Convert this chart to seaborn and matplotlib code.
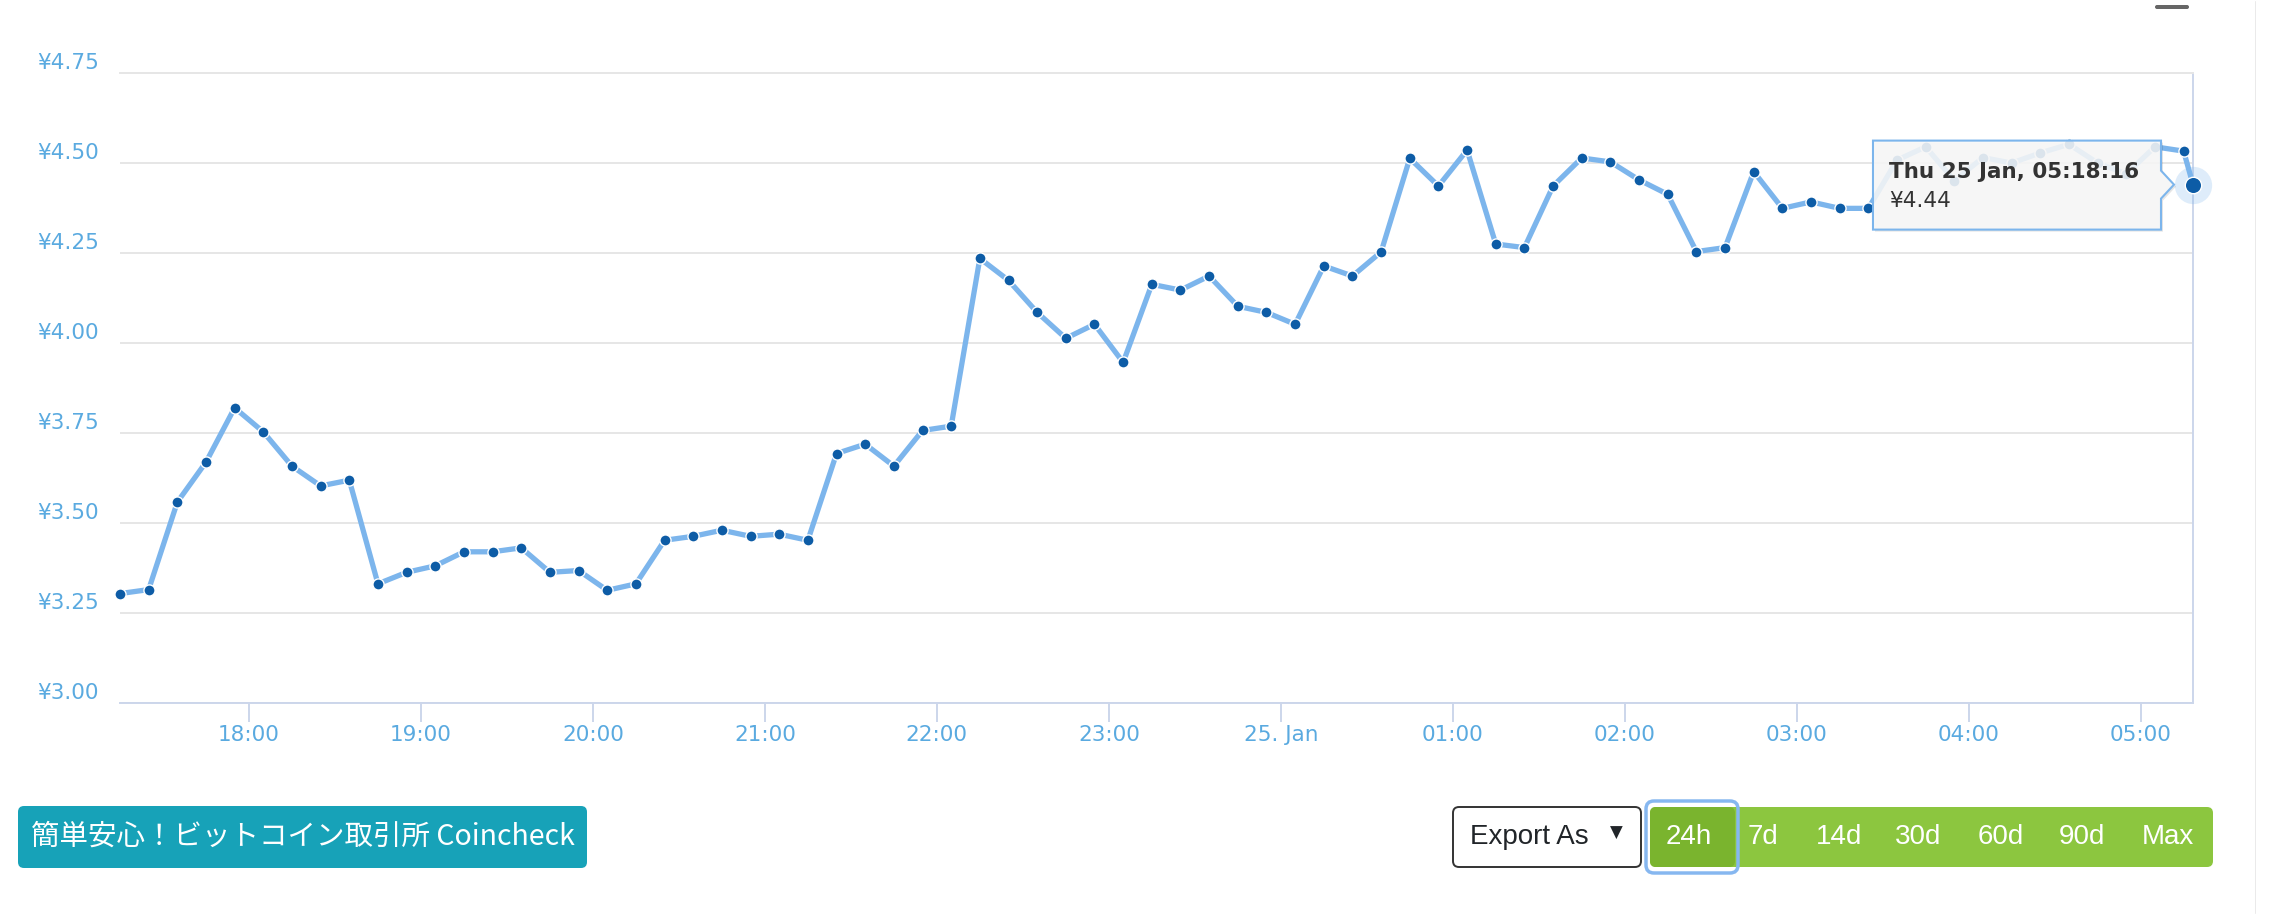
import pandas as pd
import matplotlib.pyplot as plt
import matplotlib.dates as mdates
import seaborn as sns
from matplotlib.patches import FancyBboxPatch, PathPatch, Rectangle
from matplotlib.path import Path
from matplotlib.transforms import IdentityTransform

# price samples every 10 min from 17:15, then the live point under the tooltip
START = '2018-01-24 17:15'
LAST_TIME = '2018-01-25 05:18:16'
prices = [
    3.304, 3.315, 3.558, 3.669, 3.820, 3.753, 3.658, 3.603, 3.619, 3.331,
    3.363, 3.381, 3.420, 3.420, 3.431, 3.363, 3.368, 3.313, 3.331, 3.452,
    3.463, 3.480, 3.463, 3.469, 3.452, 3.693, 3.719, 3.658, 3.757, 3.769,
    4.235, 4.174, 4.085, 4.013, 4.052, 3.946, 4.163, 4.147, 4.186, 4.102,
    4.085, 4.052, 4.214, 4.186, 4.253, 4.513, 4.436, 4.536, 4.275, 4.265,
    4.436, 4.514, 4.503, 4.453, 4.413, 4.254, 4.265, 4.476, 4.374, 4.392,
    4.374, 4.374, 4.508, 4.545, 4.451, 4.515, 4.500, 4.528, 4.552, 4.500,
    4.470, 4.545, 4.533,
]
last_price = 4.44

tick_times = pd.date_range('2018-01-24 18:00', '2018-01-25 05:00', freq='1h')
tick_labels = ['18:00', '19:00', '20:00', '21:00', '22:00', '23:00',
               '25. Jan', '01:00', '02:00', '03:00', '04:00', '05:00']
y_ticks = [3.00, 3.25, 3.50, 3.75, 4.00, 4.25, 4.50, 4.75]
range_buttons = ['24h', '7d', '14d', '30d', '60d', '90d', 'Max']
promo_text = '簡単安心！ビットコイン取引所 Coincheck'

LINE = '#7cb5ec'
DOT = '#0d5ca6'
LBL = '#5aaae0'
GRID = '#e6e6e6'
AXIS = '#ccd6eb'

times = list(pd.date_range(START, periods=len(prices), freq='10min')) + [pd.Timestamp(LAST_TIME)]
df = pd.DataFrame({'time': times, 'price': prices + [last_price]})

sns.set_theme(style='white')
plt.rcParams['font.family'] = ['DejaVu Sans', 'Noto Sans CJK JP']

W, H = 2276, 914
fig = plt.figure(figsize=(W / 100, H / 100), dpi=100)
ax = fig.add_axes([120 / W, 1 - 703 / H, (2193 - 120) / W, (703 - 73) / H])

sns.lineplot(data=df, x='time', y='price', ax=ax, color=LINE, linewidth=3.8,
             marker='o', markersize=8, markerfacecolor=DOT, markeredgecolor='white',
             markeredgewidth=1.0, clip_on=False, zorder=3)

t_last = df['time'].iloc[-1]
p_last = df['price'].iloc[-1]
ax.scatter([t_last], [p_last], s=720, color=LINE, alpha=0.25, linewidths=0, zorder=4, clip_on=False)
ax.scatter([t_last], [p_last], s=140, color=DOT, edgecolor='white', linewidths=1, zorder=5, clip_on=False)

ax.set_xlim(df['time'].iloc[0], t_last)
ax.set_ylim(3.0, 4.75)
ax.set_xticks(tick_times)
ax.set_xticklabels(tick_labels)
ax.set_yticks(y_ticks)
ax.set_yticklabels([f'¥{v:.2f}' for v in y_ticks])
ax.set_xlabel('')
ax.set_ylabel('')

ax.yaxis.grid(True, color=GRID, linewidth=1.4)
ax.xaxis.grid(False)
ax.tick_params(axis='y', length=0, pad=15, labelsize=15.5, labelcolor=LBL)
ax.tick_params(axis='x', bottom=True, length=13.5, width=1.4, color=AXIS, pad=2,
               labelsize=15.5, labelcolor=LBL, direction='out')
for lbl in ax.get_yticklabels():
    lbl.set_va('bottom')

ax.spines['left'].set_visible(False)
ax.spines['top'].set_color(GRID)
ax.spines['top'].set_linewidth(1.4)
ax.spines['bottom'].set_color(AXIS)
ax.spines['bottom'].set_linewidth(1.4)
ax.spines['right'].set_color(AXIS)
ax.spines['right'].set_linewidth(1.4)

# tooltip anchored on the last point
px, py = ax.transData.transform((mdates.date2num(t_last), p_last))
tip_x = px - 19
right = px - 32
left = right - 288
top = py + 44
bottom = py - 45
verts = [(left, bottom), (right, bottom), (right, py - 14), (tip_x, py),
         (right, py + 14), (right, top), (left, top), (left, bottom)]
codes = [Path.MOVETO] + [Path.LINETO] * 6 + [Path.CLOSEPOLY]
shadow = PathPatch(Path([(x + 2, y - 2) for x, y in verts], codes), transform=IdentityTransform(),
                   facecolor='black', alpha=0.10, edgecolor='none', zorder=9)
tip = PathPatch(Path(verts, codes), transform=IdentityTransform(),
                facecolor=(0.975, 0.975, 0.975, 0.88), edgecolor=LINE, linewidth=1.5, zorder=10)
fig.add_artist(shadow)
fig.add_artist(tip)
fig.text(left + 16, py + 13, t_last.strftime('%a %d %b, %H:%M:%S'), transform=IdentityTransform(),
         fontsize=15.5, fontweight='bold', color='#333333', va='center', ha='left', zorder=11)
fig.text(left + 16, py - 16, f'¥{p_last:.2f}', transform=IdentityTransform(),
         fontsize=15.5, color='#333333', va='center', ha='left', zorder=11)

# page widgets below the chart
def button(x0, y0, x1, y1, fc, ec='none', lw=0, r=6):
    p = FancyBboxPatch((x0, H - y1), x1 - x0, y1 - y0, boxstyle=f'round,pad=0,rounding_size={r}',
                       transform=IdentityTransform(), facecolor=fc, edgecolor=ec, linewidth=lw, zorder=5)
    fig.add_artist(p)

button(18, 806, 587, 868, '#17a2b8')
fig.text(303, H - 837, promo_text, transform=IdentityTransform(), ha='center', va='center',
         color='white', fontsize=20.5, family=['Noto Sans CJK JP', 'DejaVu Sans'], zorder=6)

button(1453, 807, 1641, 867, 'white', ec='#333333', lw=1.4)
fig.text(1470, H - 837, 'Export As', transform=IdentityTransform(), ha='left', va='center',
         color='#212529', fontsize=20, family=['Liberation Sans', 'DejaVu Sans'], zorder=6)
fig.text(1616, H - 833, '▼', transform=IdentityTransform(), ha='center', va='center',
         color='#212529', fontsize=12, zorder=6)

button(1650, 807, 2213, 867, '#8cc63f')
button(1650, 807, 1735, 867, '#7ab42e')
button(1646, 801, 1738, 873, 'none', ec='#86b7f0', lw=2.5, r=8)
btn_x = [1689, 1763, 1839, 1918, 2001, 2082, 2168]
for bx, lab in zip(btn_x, range_buttons):
    fig.text(bx, H - 837, lab, transform=IdentityTransform(), ha='center', va='center',
             color='white', fontsize=20, family=['Liberation Sans', 'DejaVu Sans'], zorder=6)

fig.add_artist(Rectangle((2254, 0), 2, H, transform=IdentityTransform(), facecolor='#dddddd', zorder=1))
button(2155, 5, 2189, 9, '#666666', r=2)

plt.savefig('out.png', dpi=100)
